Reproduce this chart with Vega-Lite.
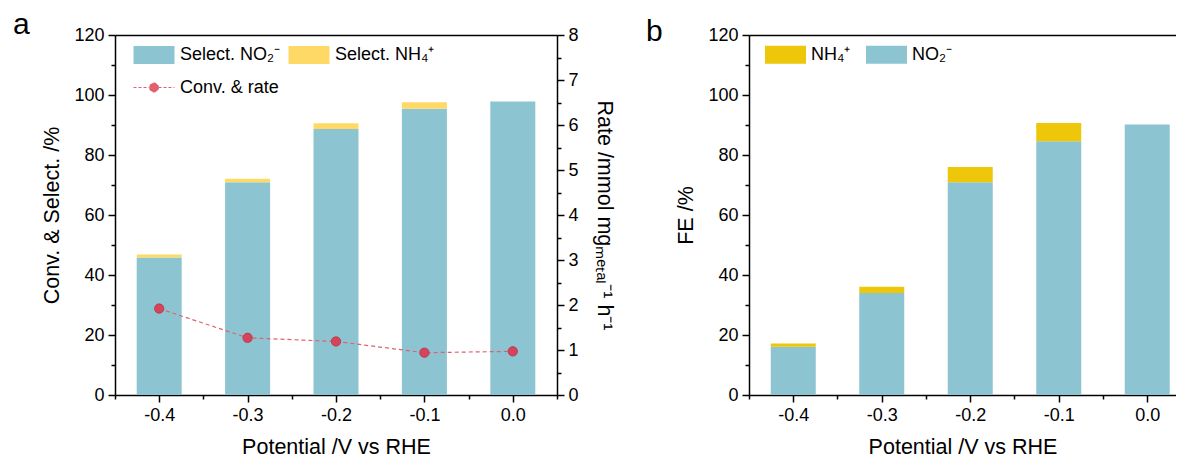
{
  "$schema": "https://vega.github.io/schema/vega-lite/v6.json",
  "padding": {"left": 13, "top": 9, "right": 0, "bottom": 0},
  "background": "white",
  "config": {
    "font": "Liberation Sans",
    "view": {"stroke": null},
    "axis": {
      "domainColor": "#000", "domainWidth": 1.5,
      "tickColor": "#000", "tickWidth": 1.5,
      "labelColor": "#000", "labelFont": "Liberation Sans", "labelFontSize": 18,
      "titleFont": "Liberation Sans", "titleFontSize": 21.5, "titleFontWeight": "normal", "titleColor": "#000",
      "grid": false, "labelPadding": 4, "labelOverlap": false, "labelFlush": false
    },
    "legend": {"labelFont": "Liberation Sans", "labelFontSize": 18, "labelColor": "#000", "padding": 0, "labelLimit": 300},
    "title": {"font": "Liberation Sans", "fontWeight": "normal", "color": "#000", "fontSize": 30}
  },
  "datasets": {
    "selA": [
      {"potential": -0.4, "species": "Select. NO₂⁻", "value": 45.8, "ord": 1},
      {"potential": -0.4, "species": "Select. NH₄⁺", "value": 1.0, "ord": 2},
      {"potential": -0.3, "species": "Select. NO₂⁻", "value": 70.9, "ord": 1},
      {"potential": -0.3, "species": "Select. NH₄⁺", "value": 1.2, "ord": 2},
      {"potential": -0.2, "species": "Select. NO₂⁻", "value": 88.7, "ord": 1},
      {"potential": -0.2, "species": "Select. NH₄⁺", "value": 1.9, "ord": 2},
      {"potential": -0.1, "species": "Select. NO₂⁻", "value": 95.4, "ord": 1},
      {"potential": -0.1, "species": "Select. NH₄⁺", "value": 2.2, "ord": 2},
      {"potential": 0.0, "species": "Select. NO₂⁻", "value": 97.8, "ord": 1}
    ],
    "rateA": [
      {"potential": -0.4, "rate": 1.92},
      {"potential": -0.3, "rate": 1.27},
      {"potential": -0.2, "rate": 1.19},
      {"potential": -0.1, "rate": 0.94},
      {"potential": 0.0, "rate": 0.97}
    ],
    "feB": [
      {"potential": -0.4, "species": "NO₂⁻", "value": 16.1, "ord": 1},
      {"potential": -0.4, "species": "NH₄⁺", "value": 1.1, "ord": 2},
      {"potential": -0.3, "species": "NO₂⁻", "value": 34.0, "ord": 1},
      {"potential": -0.3, "species": "NH₄⁺", "value": 2.1, "ord": 2},
      {"potential": -0.2, "species": "NO₂⁻", "value": 70.9, "ord": 1},
      {"potential": -0.2, "species": "NH₄⁺", "value": 5.1, "ord": 2},
      {"potential": -0.1, "species": "NO₂⁻", "value": 84.6, "ord": 1},
      {"potential": -0.1, "species": "NH₄⁺", "value": 6.1, "ord": 2},
      {"potential": 0.0, "species": "NO₂⁻", "value": 90.2, "ord": 1}
    ]
  },
  "spacing": 31,
  "resolve": {"scale": {"color": "independent"}, "legend": {"color": "independent"}},
  "hconcat": [
    {
      "width": 442,
      "height": 360,
      "title": {"text": "a", "anchor": "start", "frame": "group", "dx": -102, "offset": -37.5, "baseline": "alphabetic", "fontSize": 30},
      "layer": [
        {
          "data": {"name": "selA"},
          "mark": {"type": "bar", "width": 45},
          "encoding": {
            "x": {
              "field": "potential", "type": "quantitative",
              "scale": {"domain": [-0.45, 0.05], "nice": false, "zero": false, "padding": 0},
              "axis": {
                "values": [-0.45, -0.4, -0.35, -0.3, -0.25, -0.2, -0.15, -0.1, -0.05, 0, 0.05],
                "labelExpr": "abs(datum.value*10 - round(datum.value*10)) < 0.001 ? (datum.value < -0.001 ? '-' : '') + format(abs(datum.value), '.1f') : ''",
                "tickSize": {"condition": {"test": "abs(datum.value*10 - round(datum.value*10)) < 0.001", "value": 7}, "value": 4},
                "title": "Potential /V vs RHE",
                "titlePadding": 12
              }
            },
            "y": {
              "field": "value", "type": "quantitative", "stack": "zero",
              "scale": {"domain": [0, 120], "nice": false},
              "axis": {
                "values": [0, 10, 20, 30, 40, 50, 60, 70, 80, 90, 100, 110, 120],
                "labelExpr": "datum.value % 20 === 0 ? datum.label : ''",
                "tickSize": {"condition": {"test": "datum.value % 20 === 0", "value": 7}, "value": 4},
                "title": "Conv. & Select. /%",
                "titlePadding": 10,
                "grid": true, "gridColor": "#000", "gridWidth": 1.5,
                "gridOpacity": {"condition": {"test": "datum.value === 120", "value": 1}, "value": 0}
              }
            },
            "color": {
              "field": "species", "type": "nominal",
              "scale": {"domain": ["Select. NO₂⁻", "Select. NH₄⁺", "Conv. & rate"], "range": ["#8CC5D1", "#FFD966", "#E06070"]},
              "legend": {
                "title": null, "orient": "none", "legendX": 18, "legendY": -1.5,
                "direction": "horizontal", "columns": 2,
                "symbolSize": 1681, "labelOffset": 5, "columnPadding": 5, "rowPadding": -4,
                "encode": {
                  "symbols": {
                    "update": {
                      "shape": [
                        {"test": "datum.value === 'Conv. & rate'", "value": "M-1,0H-0.22M0.22,0H1M0.22,0A0.22,0.22,0,1,1,-0.22,0A0.22,0.22,0,1,1,0.22,0"},
                        {"value": "M-1,-0.44H1V0.44H-1Z"}
                      ],
                      "fill": [
                        {"test": "datum.value === 'Conv. & rate'", "value": "#D6435A"},
                        {"test": "datum.value === 'Select. NH₄⁺'", "value": "#FFD966"},
                        {"value": "#8CC5D1"}
                      ],
                      "stroke": [
                        {"test": "datum.value === 'Conv. & rate'", "value": "#E06070"},
                        {"value": "transparent"}
                      ],
                      "strokeDash": [
                        {"test": "datum.value === 'Conv. & rate'", "value": [3, 2]},
                        {"value": []}
                      ],
                      "strokeWidth": {"value": 1},
                      "size": {"value": 1681},
                      "opacity": {"value": 1}
                    }
                  }
                }
              }
            },
            "order": {"field": "ord", "type": "quantitative"}
          }
        },
        {
          "data": {"name": "rateA"},
          "mark": {
            "type": "line", "color": "#E06070", "strokeDash": [4, 3], "strokeWidth": 1.2,
            "point": {"filled": true, "size": 90, "color": "#D6435A", "stroke": "#A82C3E", "strokeWidth": 0.6}
          },
          "encoding": {
            "x": {"field": "potential", "type": "quantitative", "scale": {"domain": [-0.45, 0.05], "nice": false, "zero": false, "padding": 0}},
            "y": {
              "field": "rate", "type": "quantitative",
              "scale": {"domain": [0, 8], "nice": false},
              "axis": {
                "orient": "right",
                "values": [0, 0.5, 1, 1.5, 2, 2.5, 3, 3.5, 4, 4.5, 5, 5.5, 6, 6.5, 7, 7.5, 8],
                "labelExpr": "datum.value % 1 === 0 ? format(datum.value, 'd') : ''",
                "tickSize": {"condition": {"test": "datum.value % 1 === 0", "value": 7}, "value": 4},
                "title": "Rate /mmol mgₘₑₜₐₗ⁻¹ h⁻¹",
                "titlePadding": 14
              }
            }
          }
        }
      ],
      "resolve": {"scale": {"y": "independent"}}
    },
    {
      "width": 427,
      "height": 360,
      "title": {"text": "b", "anchor": "start", "frame": "group", "dx": -103, "offset": -44.5, "baseline": "alphabetic", "fontSize": 30},
      "data": {"name": "feB"},
      "mark": {"type": "bar", "width": 45},
      "encoding": {
        "x": {
          "field": "potential", "type": "quantitative",
          "scale": {"domain": [-0.45, 0.0325], "nice": false, "zero": false, "padding": 0},
          "axis": {
            "values": [-0.45, -0.4, -0.35, -0.3, -0.25, -0.2, -0.15, -0.1, -0.05, 0],
            "labelExpr": "abs(datum.value*10 - round(datum.value*10)) < 0.001 ? (datum.value < -0.001 ? '-' : '') + format(abs(datum.value), '.1f') : ''",
            "tickSize": {"condition": {"test": "abs(datum.value*10 - round(datum.value*10)) < 0.001", "value": 7}, "value": 4},
            "title": "Potential /V vs RHE",
            "titlePadding": 12
          }
        },
        "y": {
          "field": "value", "type": "quantitative", "stack": "zero",
          "scale": {"domain": [0, 120], "nice": false},
          "axis": {
            "values": [0, 10, 20, 30, 40, 50, 60, 70, 80, 90, 100, 110, 120],
            "labelExpr": "datum.value % 20 === 0 ? datum.label : ''",
            "tickSize": {"condition": {"test": "datum.value % 20 === 0", "value": 7}, "value": 4},
            "title": "FE /%",
            "titlePadding": 10,
            "grid": true, "gridColor": "#000", "gridWidth": 1.5,
            "gridOpacity": {"condition": {"test": "datum.value === 120", "value": 1}, "value": 0}
          }
        },
        "color": {
          "field": "species", "type": "nominal",
          "scale": {"domain": ["NH₄⁺", "NO₂⁻"], "range": ["#EEC60A", "#8CC5D1"]},
          "legend": {
            "title": null, "orient": "none", "legendX": 16, "legendY": -1,
            "direction": "horizontal",
            "symbolSize": 1681, "labelOffset": 5, "columnPadding": 15,
            "encode": {
              "symbols": {
                "update": {
                  "shape": {"value": "M-1,-0.44H1V0.44H-1Z"},
                  "strokeWidth": {"value": 0},
                  "size": {"value": 1681},
                  "opacity": {"value": 1}
                }
              }
            }
          }
        },
        "order": {"field": "ord", "type": "quantitative"}
      }
    }
  ]
}
